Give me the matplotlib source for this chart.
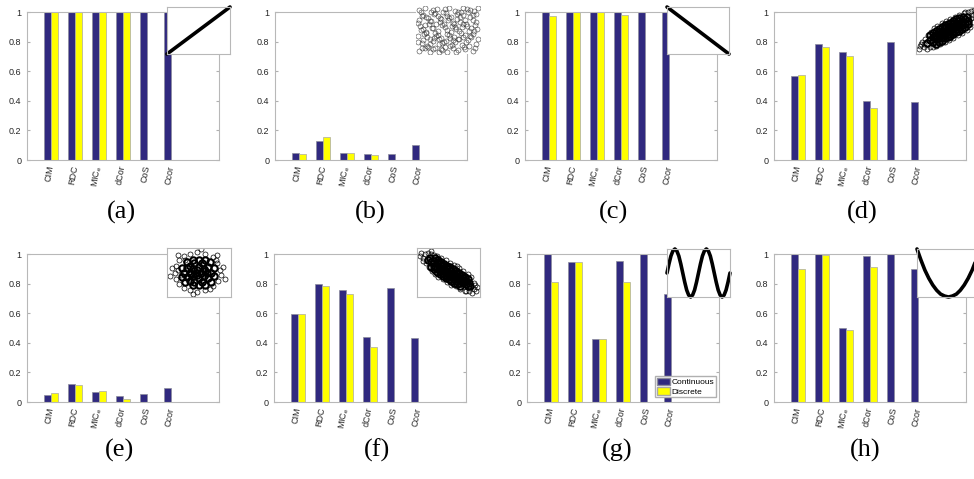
import numpy as np
import matplotlib
matplotlib.use('Agg')
import matplotlib.pyplot as plt
from matplotlib.patches import Patch

plt.rcParams['font.family'] = 'Liberation Sans'
plt.rcParams['mathtext.fontset'] = 'custom'
plt.rcParams['mathtext.rm'] = 'Liberation Sans'

methods = ['CIM', 'RDC', r'MIC$_\mathrm{e}$', 'dCor', 'CoS', 'Ccor']
panel_names = ['(a)', '(b)', '(c)', '(d)', '(e)', '(f)', '(g)', '(h)']

# continuous (6 methods) and discrete (first 4 methods) scores per panel
cont_a = [1.0, 1.0, 1.0, 1.0, 1.0, 1.0]
disc_a = [1.0, 1.0, 1.0, 1.0]
cont_b = [0.045, 0.13, 0.05, 0.043, 0.04, 0.10]
disc_b = [0.04, 0.155, 0.048, 0.034]
cont_c = [1.0, 1.0, 1.0, 1.0, 1.0, 1.0]
disc_c = [0.97, 1.0, 1.0, 0.98]
cont_d = [0.567, 0.783, 0.733, 0.40, 0.795, 0.395]
disc_d = [0.573, 0.762, 0.703, 0.351]
cont_e = [0.047, 0.123, 0.065, 0.038, 0.054, 0.097]
disc_e = [0.060, 0.115, 0.072, 0.022]
cont_f = [0.592, 0.80, 0.757, 0.437, 0.771, 0.432]
disc_f = [0.594, 0.781, 0.731, 0.372]
cont_g = [1.0, 0.948, 0.426, 0.953, 1.0, 0.727]
disc_g = [0.81, 0.943, 0.426, 0.81]
cont_h = [1.0, 1.0, 0.497, 0.988, 1.0, 0.90]
disc_h = [0.897, 0.99, 0.487, 0.915]

cont_all = [cont_a, cont_b, cont_c, cont_d, cont_e, cont_f, cont_g, cont_h]
disc_all = [disc_a, disc_b, disc_c, disc_d, disc_e, disc_f, disc_g, disc_h]

# inset curves
lin_up_x = [0, 1]
lin_up_y = [0, 1]
lin_down_x = [0, 1]
lin_down_y = [1, 0]
sine_y = [0, .38, .71, .92, 1, .92, .71, .38, 0, -.38, -.71, -.92, -1, -.92, -.71, -.38,
          0, .38, .71, .92, 1, .92, .71, .38, 0, -.38, -.71, -.92, -1, -.92, -.71, -.38, 0]
parab_y = [1, .77, .56, .39, .25, .14, .06, .02, 0, .02, .06, .14, .25, .39, .56, .77, 1]

# inset scatter clouds (points placed by eye)
unif_pts = [(.03, .05), (.12, .10), (.21, .03), (.29, .12), (.40, .07), (.48, .02), (.58, .11), (.67, .06), (.78, .09), (.90, .04),
            (.07, .22), (.16, .16), (.25, .27), (.35, .19), (.44, .25), (.53, .15), (.62, .24), (.73, .18), (.83, .28), (.95, .20),
            (.02, .36), (.11, .41), (.20, .31), (.31, .38), (.39, .33), (.49, .42), (.59, .35), (.68, .30), (.77, .40), (.88, .34),
            (.06, .50), (.15, .46), (.26, .55), (.34, .48), (.45, .57), (.55, .45), (.63, .52), (.72, .56), (.84, .47), (.97, .53),
            (.01, .66), (.12, .61), (.22, .70), (.30, .64), (.41, .60), (.50, .71), (.60, .63), (.70, .68), (.80, .62), (.91, .72),
            (.08, .80), (.17, .75), (.27, .84), (.37, .77), (.46, .86), (.55, .79), (.65, .74), (.75, .83), (.86, .78), (.96, .85),
            (.03, .93), (.13, .98), (.23, .89), (.32, .95), (.42, .90), (.51, .97), (.61, .92), (.71, .88), (.81, .96), (.92, .91),
            (.18, .14), (.38, .09), (.57, .18), (.76, .13), (.94, .11), (.09, .29), (.28, .33), (.47, .27), (.66, .31), (.85, .36),
            (.14, .44), (.33, .40), (.52, .39), (.71, .43), (.90, .41), (.05, .58), (.24, .54), (.43, .62), (.62, .57), (.81, .59),
            (.20, .69), (.39, .73), (.58, .66), (.77, .72), (.96, .67), (.10, .82), (.29, .87), (.48, .81), (.67, .90), (.86, .94),
            (.07, .12), (.25, .08), (.45, .14), (.63, .02), (.84, .16), (.01, .25), (.21, .20), (.41, .22), (.58, .28), (.79, .23),
            (.99, .30), (.16, .35), (.36, .30), (.54, .33), (.74, .35), (.93, .47), (.10, .53), (.29, .44), (.49, .50), (.68, .47),
            (.87, .55), (.03, .72), (.19, .62), (.37, .67), (.56, .59), (.75, .64), (.94, .60), (.14, .78), (.33, .80), (.52, .76),
            (.70, .79), (.90, .82), (.06, .88), (.26, .94), (.45, .96), (.64, .85), (.83, .89), (.98, .97), (.36, .02), (.74, .98)]

pos_core = [(-.60, -.45), (-.50, -.50), (-.50, -.30), (-.40, -.40), (-.40, -.20), (-.30, -.35), (-.30, -.15), (-.30, -.05),
            (-.20, -.30), (-.20, -.15), (-.20, .00), (-.10, -.20), (-.10, -.05), (-.10, .10), (.00, -.15), (.00, .00),
            (.00, .15), (.10, -.08), (.10, .05), (.10, .20), (.20, .00), (.20, .15), (.20, .30), (.30, .05), (.30, .20),
            (.30, .35), (.40, .15), (.40, .30), (.40, .45), (.50, .25), (.50, .40), (.60, .35), (.60, .50), (.70, .45),
            (-.70, -.55), (.65, .60), (-.45, -.30), (.45, .35),
            (-.60, -.20), (-.50, -.12), (-.40, -.02), (-.30, .08), (-.20, .15), (-.10, .24), (.00, .30), (.10, .36),
            (.20, .44), (.30, .52), (.40, .58), (.52, .62), (-.40, -.60), (-.30, -.52), (-.20, -.46), (-.10, -.36),
            (.00, -.30), (.10, -.24), (.20, -.15), (.30, -.08), (.40, .00), (.50, .08), (.60, .18), (.70, .28)]
pos_outer = [(-.95, -.85), (-.88, -.60), (-.80, -.75), (-.75, -.40), (-.70, -.85), (-.65, -.20), (-.60, -.75), (-.55, -.05),
             (-.50, -.75), (-.45, .10), (-.40, -.72), (-.35, .20), (-.25, -.62), (-.20, .32), (-.10, -.52), (-.05, .42),
             (.05, -.42), (.10, .52), (.20, -.35), (.25, .62), (.35, -.22), (.40, .72), (.50, -.10), (.55, .78), (.65, .02),
             (.70, .82), (.75, .15), (.80, .90), (.85, .40), (.90, .92), (.95, .65), (.85, .70), (-.85, -.50), (.60, .85),
             (-.78, -.62), (.78, .55), (.92, .80), (-.92, -.70)]

neg_core = [(-.60, .45), (-.50, .50), (-.50, .30), (-.40, .40), (-.40, .20), (-.30, .35), (-.30, .15), (-.30, .05),
            (-.20, .30), (-.20, .15), (-.20, .00), (-.10, .20), (-.10, .05), (-.10, -.10), (.00, .15), (.00, .00),
            (.00, -.15), (.10, .08), (.10, -.05), (.10, -.20), (.20, .00), (.20, -.15), (.20, -.30), (.30, -.05), (.30, -.20),
            (.30, -.35), (.40, -.15), (.40, -.30), (.40, -.45), (.50, -.25), (.50, -.40), (.60, -.35), (.60, -.50),
            (.70, -.45), (-.70, .55), (.65, -.60), (-.45, .30), (.45, -.35), (-.62, .62), (.72, -.58),
            (-.60, .22), (-.50, .14), (-.40, .04), (-.30, -.06), (-.20, -.15), (-.10, -.24), (.00, -.30), (.10, -.36),
            (.20, -.44), (.30, -.50), (.40, -.58), (-.45, .62), (-.35, .55), (-.25, .45), (-.15, .36), (-.05, .30),
            (.05, .22), (.15, .15), (.25, .06), (.35, .00), (.45, -.10), (.55, -.18), (.65, -.28)]
neg_outer = [(-.92, .85), (-.85, .62), (-.80, .78), (-.75, .40), (-.70, .85), (-.65, .22), (-.60, .80), (-.55, .08),
             (-.50, .76), (-.45, -.08), (-.40, .72), (-.35, -.18), (-.25, .62), (-.20, -.30), (-.10, .52), (-.05, -.42),
             (.05, .42), (.10, -.52), (.20, .32), (.25, -.60), (.35, .20), (.40, -.70), (.50, .08), (.55, -.78), (.65, -.05),
             (.70, -.82), (.75, -.20), (.80, -.88), (.85, -.45), (.92, -.80), (.95, -.62), (.85, -.70), (-.85, .50),
             (.60, -.82), (-.60, .95), (.30, .30), (-.95, .70), (.90, -.55)]

round_core = [(-.50, .00), (-.40, -.20), (-.40, .20), (-.30, -.35), (-.30, .00), (-.30, .30), (-.20, -.15), (-.20, .15),
              (-.15, -.40), (-.15, .40), (-.10, .00), (.00, -.25), (.00, .25), (.05, .00), (.10, -.40), (.10, .40),
              (.15, -.15), (.15, .15), (.25, .00), (.30, -.25), (.30, .25), (.40, .00), (-.05, -.10), (-.05, .12),
              (-.25, -.05), (.20, .05), (-.45, -.40), (-.40, .45), (.35, .45), (.40, -.40), (.00, -.55), (.00, .55),
              (-.55, .20), (.50, .20), (-.55, -.20), (.50, -.15), (-.20, -.55), (.20, -.55), (-.20, .55), (.20, .55)]
round_outer = [(-.80, .00), (-.75, .30), (-.75, -.30), (-.65, .55), (-.65, -.50), (-.50, .70), (-.50, -.65), (-.30, .80),
               (-.30, -.75), (-.05, .90), (-.05, -.85), (.20, .80), (.20, -.75), (.45, .65), (.45, -.60), (.60, .40),
               (.62, -.35), (.70, .10), (.72, -.12), (-.68, .10), (-.60, -.10), (-.45, .55), (.55, .55), (.35, -.70),
               (-.88, .20), (.80, .25), (.05, 1.00), (-.95, -.15), (.85, -.30), (-.20, -.95), (.60, .75), (-.70, .75)]

blue = '#30297f'
yellow = '#ffff00'
W, H = 974, 479
fig = plt.figure(figsize=(W / 100, H / 100), dpi=100)


def px_axes(left, top, w, h):
    return fig.add_axes([left / W, 1 - (top + h) / H, w / W, h / H])


main_pos = [(27, 12), (275, 12), (525, 12), (774, 12), (27, 254), (274, 254), (527, 254), (774, 254)]
inset_pos = [(167, 7, 63, 47), (416, 6, 64, 48), (667, 7, 62, 47), (916, 7, 63, 47),
             (167, 248, 64, 49), (417, 248, 63, 49), (667, 249, 63, 48), (917, 249, 63, 48)]
label_pos = [(121, 212), (370, 212), (614, 212), (862, 212), (119, 450), (377, 450), (617, 450), (865, 450)]

x = np.arange(1, 7)
axes = []
for i in range(8):
    l, t = main_pos[i]
    ax = px_axes(l, t, 192, 148)
    ax.bar(x - 0.145, cont_all[i], 0.29, color=blue, edgecolor='#8c8c9c', linewidth=0.5)
    ax.bar(x[:4] + 0.145, disc_all[i], 0.29, color=yellow, edgecolor='#a8a8a8', linewidth=0.5)
    ax.set_xlim(0, 8)
    ax.set_ylim(0, 1)
    ax.set_yticks([0, 0.2, 0.4, 0.6, 0.8, 1])
    ax.set_yticklabels(['0', '0.2', '0.4', '0.6', '0.8', '1'])
    ax.set_xticks(x)
    ax.set_xticklabels(methods, rotation=80, rotation_mode='anchor', ha='right', va='center')
    ax.tick_params(axis='y', direction='in', length=2.5, right=True, labelsize=6.5,
                   color='#b0b0b0', labelcolor='#262626', pad=4)
    ax.tick_params(axis='x', direction='in', length=0, labelsize=6.5, labelcolor='#262626', pad=4)
    for s in ax.spines.values():
        s.set_color('#b8b8b8')
        s.set_linewidth(0.8)
    fig.text(label_pos[i][0] / W, 1 - label_pos[i][1] / H, panel_names[i], ha='center', va='center',
             fontsize=19, family='Liberation Serif')
    axes.append(ax)

axes[6].legend(handles=[Patch(facecolor=blue, edgecolor='#8c8c9c', label='Continuous'),
                        Patch(facecolor=yellow, edgecolor='#a8a8a8', label='Discrete')],
               loc='upper left', bbox_to_anchor=(655 / W, 1 - 376 / H), bbox_transform=fig.transFigure,
               fontsize=6.0, frameon=True, fancybox=False, edgecolor='#b0b0b0', framealpha=1,
               borderpad=0.2, labelspacing=0.1, handlelength=1.6, handleheight=1.0,
               handletextpad=0.2, borderaxespad=0)

insets = []
for i in range(8):
    ins = px_axes(*inset_pos[i])
    ins.set_xticks([])
    ins.set_yticks([])
    for s in ins.spines.values():
        s.set_color('#b8b8b8')
        s.set_linewidth(0.8)
    insets.append(ins)

line_kw = dict(color='black', linewidth=2.6, clip_on=False, solid_capstyle='round')
insets[0].plot(lin_up_x, lin_up_y, **line_kw)
insets[0].set_xlim(0, 1)
insets[0].set_ylim(0, 1)
insets[2].plot(lin_down_x, lin_down_y, **line_kw)
insets[2].set_xlim(0, 1)
insets[2].set_ylim(0, 1)
insets[6].plot(range(len(sine_y)), sine_y, **line_kw)
insets[6].set_xlim(0, len(sine_y) - 1)
insets[6].set_ylim(-1, 1)
insets[7].plot(range(len(parab_y)), parab_y, **line_kw)
insets[7].set_xlim(0, len(parab_y) - 1)
insets[7].set_ylim(0, 1)

thin_kw = dict(linestyle='', marker='o', markersize=3.6, markerfacecolor='none',
               markeredgecolor='black', markeredgewidth=0.5)
thick_kw = dict(linestyle='', marker='o', markersize=4.6, markerfacecolor='none',
                markeredgecolor='black', markeredgewidth=1.5)

ux, uy = np.array(unif_pts).T
insets[1].plot(ux, uy, linestyle='', marker='o', markersize=3.6, markerfacecolor='none',
               markeredgecolor='#2a2a2a', markeredgewidth=0.35)
insets[1].set_xlim(-0.02, 1.02)
insets[1].set_ylim(-0.02, 1.02)
for s in insets[1].spines.values():
    s.set_visible(False)

for idx, core, outer in [(3, pos_core, pos_outer), (4, round_core, round_outer), (5, neg_core, neg_outer)]:
    cx, cy = np.array(core).T
    ox, oy = np.array(outer).T
    insets[idx].plot(ox, oy, **thin_kw)
    insets[idx].plot(cx, cy, **thick_kw)
    insets[idx].set_xlim(-1.06, 1.06)
    insets[idx].set_ylim(-1.06, 1.06)

fig.savefig('out.png', dpi=100)
